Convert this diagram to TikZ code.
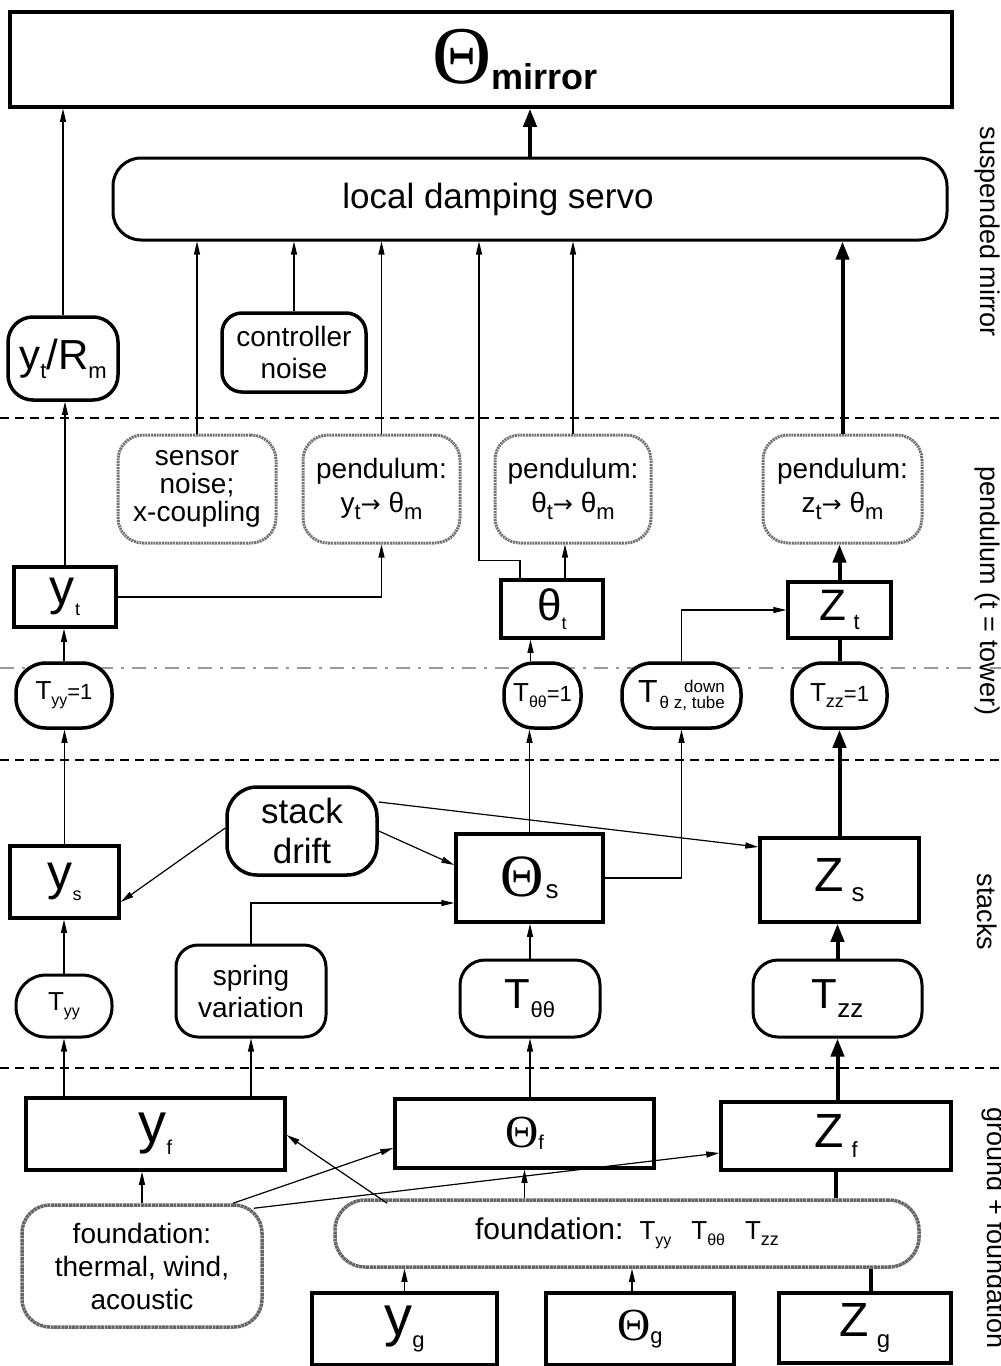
\documentclass[tikz,border=0pt]{standalone}
\usepackage{fontspec}
\setmainfont{Liberation Sans}
\newfontfamily\serifTh{Liberation Serif}
\newfontfamily\djv{DejaVu Sans}
\usetikzlibrary{arrows.meta}
\newcommand\sbs[2]{\raisebox{-0.22em}{\fontsize{#1}{#1}\selectfont #2}}
\newcommand\fs[1]{\fontsize{#1}{#1}\selectfont}
\tikzset{
  sq/.style={draw, line width=3.5pt, fill=white, inner sep=0pt},
  rr/.style={draw, line width=3pt, fill=white, inner sep=0pt, rounded corners=#1},
  rr/.default=22pt,
  fz/.style={rr=#1, draw=black!55, dash pattern=on 2pt off 0.8pt},
  fz/.default=25pt,
  fzd/.style={rr=#1, draw=black!60, line width=3.5pt, dash pattern=on 3pt off 0.6pt},
  fzd/.default=28pt,
  arr/.style={line width=1.2pt, -{Triangle[length=13pt,width=6pt]}},
  tarr/.style={line width=4pt, -{Triangle[length=18pt,width=13pt]}},
  tline/.style={line width=4pt},
  sep/.style={line width=1.2pt, dash pattern=on 9pt off 6pt},
  sepg/.style={line width=1.2pt, black!40, dash pattern=on 14pt off 8pt on 3pt off 8pt},
  side/.style={rotate=-90, font=\fs{27}},
}
\begin{document}
\begin{tikzpicture}[x=1pt,y=-1pt]
\useasboundingbox (0,0) rectangle (1001,1366);
% level separators
\draw[sep] (0,418) -- (1001,418);
\draw[sepg] (0,668) -- (1001,668);
\draw[sep] (0,760) -- (1001,760);
\draw[sep] (0,1068) -- (1001,1068);
% side labels
\node[side] (lbA) at (987,232) {suspended mirror};
\node[side] (lbB) at (987,591) {pendulum (t = tower)};
\node[side] (lbC) at (987,912) {stacks};
\node[side] (lbD) at (994,1228) {ground + foundation};
% mirror level
\node[sq, minimum width=942pt, minimum height=95pt] (mirror) at (481,59.5)
  {\hspace*{68pt}{\serifTh\fs{82}Θ}\raisebox{-6pt}{\bfseries\fs{36}mirror}};
\node[rr=28pt, minimum width=834pt, minimum height=82pt] (servo) at (530,199)
  {\hspace*{-64pt}\fs{35}local damping servo};
\node[rr=25pt, line width=3.5pt, minimum width=110pt, minimum height=83pt] (ytR) at (63,358.5)
  {\fs{42}y\sbs{22}{t}/R\sbs{22}{m}};
\node[rr=20pt, line width=3.5pt, minimum width=144pt, minimum height=79pt, align=center, font=\fontsize{28}{32}\selectfont] (ctrl) at (294,352.5)
  {controller\\noise};
% pendulum level
\node[fz, minimum width=158pt, minimum height=108pt, align=center, font=\fontsize{28}{28}\selectfont] (sensor) at (197,489)
  {sensor\\noise;\\x-coupling};
\node[fz, minimum width=157pt, minimum height=108pt, align=center, font=\fontsize{28}{34}\selectfont] (penY) at (381.5,489)
  {pendulum:\\ y\sbs{22}{t}{\djv\fs{24}→} θ\sbs{22}{m}};
\node[fz, minimum width=156pt, minimum height=108pt, align=center, font=\fontsize{28}{34}\selectfont] (penT) at (573,489)
  {pendulum:\\ θ\sbs{22}{t}{\djv\fs{24}→} θ\sbs{22}{m}};
\node[fz, minimum width=159pt, minimum height=108pt, align=center, font=\fontsize{28}{34}\selectfont] (penZ) at (842.5,489)
  {pendulum:\\ z\sbs{22}{t}{\djv\fs{24}→} θ\sbs{22}{m}};
\node[sq, minimum width=102pt, minimum height=60pt] (yt) at (65,597)
  {\fs{50}y\sbs{18}{t}};
\node[sq, minimum width=102pt, minimum height=58pt] (tht) at (552,609)
  {\fs{44}θ\sbs{18}{t}};
\node[sq, minimum width=103pt, minimum height=56pt] (zt) at (839.5,610)
  {\fs{44}Z\,\sbs{22}{t}};
\node[rr=30pt, line width=3.5pt, minimum width=96pt, minimum height=65pt] (Tyy1) at (64,695.5)
  {\fs{26}T\sbs{16}{yy}{\fs{22}=1}};
\node[rr=30pt, line width=3.5pt, minimum width=77pt, minimum height=65pt] (Ttt1) at (542.5,695.5)
  {\fs{26}T\sbs{16}{θθ}{\fs{22}=1}};
\node[rr=30pt, line width=3.5pt, minimum width=119pt, minimum height=65pt] (Ttz) at (681.5,695.5)
  {\fs{32}T\hspace{2pt}\raisebox{-6pt}{\fontsize{17}{19}\selectfont\shortstack[r]{down\\θ z, tube}}};
\node[rr=30pt, line width=3.5pt, minimum width=95pt, minimum height=65pt] (Tzz1) at (839.5,695.5)
  {\fs{26}T\sbs{18}{zz}{\fs{22}=1}};
% stacks level
\node[sq, minimum width=109pt, minimum height=72pt] (ys) at (64.5,882)
  {\fs{50}y\sbs{18}{s}};
\node[rr=30pt, line width=3.5pt, minimum width=150pt, minimum height=88pt, align=center, font=\fontsize{35}{40}\selectfont] (drift) at (302,831)
  {stack\\drift};
\node[sq, minimum width=147pt, minimum height=88pt] (Ths) at (529.5,878)
  {{\serifTh\fs{60}Θ}\,\sbs{26}{s}};
\node[sq, minimum width=159pt, minimum height=84pt] (Zs) at (839.5,880)
  {\fs{48}Z\,\sbs{26}{s}};
\node[rr=30pt, minimum width=96pt, minimum height=62pt] (Tyy) at (64,1006)
  {\fs{26}T\sbs{16}{yy}};
\node[rr=22pt, minimum width=150pt, minimum height=92pt, align=center, font=\fontsize{28}{32}\selectfont] (spring) at (251,991)
  {spring\\variation};
\node[rr=25pt, minimum width=140pt, minimum height=77pt] (Ttt) at (530,998.5)
  {\fs{42}T\sbs{22}{θθ}};
\node[rr=25pt, minimum width=169pt, minimum height=77pt] (Tzz) at (837.5,998.5)
  {\fs{42}T\sbs{26}{zz}};
% ground + foundation level
\node[sq, minimum width=259pt, minimum height=72pt] (yf) at (155.5,1134)
  {\fs{56}y\sbs{20}{f}};
\node[sq, minimum width=259pt, minimum height=69pt] (Thf) at (524.5,1133.5)
  {{\serifTh\fs{46}Θ}\sbs{20}{f}};
\node[sq, minimum width=230pt, minimum height=68pt] (Zf) at (836,1136)
  {\fs{48}Z\,\sbs{22}{f}};
\node[fzd, minimum width=240pt, minimum height=122pt, align=center, font=\fontsize{28}{33}\selectfont] (fth) at (142,1266)
  {foundation:\\thermal, wind,\\acoustic};
\node[fzd=30pt, minimum width=584pt, minimum height=67pt] (fT) at (627,1233.5)
  {\fs{30}foundation:\hspace{16pt}{\fs{26}T\sbs{16}{yy}\hspace{20pt}T\sbs{16}{θθ}\hspace{20pt}T\sbs{18}{zz}}};
\node[sq, minimum width=185pt, minimum height=72pt] (yg) at (404.5,1329)
  {\fs{56}y\sbs{22}{g}};
\node[sq, minimum width=188pt, minimum height=72pt] (Thg) at (640,1329)
  {{\serifTh\fs{46}Θ}\sbs{22}{g}};
\node[sq, minimum width=172pt, minimum height=70pt] (Zg) at (865,1328)
  {\fs{48}Z\,\sbs{24}{g}};
% connectors: mirror level
\draw[arr] (ytR.north) -- (ytR.north |- mirror.south);
\draw[tarr] (servo.north) -- (servo.north |- mirror.south);
\draw[arr] (yt.north) -- (yt.north |- ytR.south);
\draw[arr] (ctrl.north) -- (ctrl.north |- servo.south);
\draw[arr] (sensor.north) -- (sensor.north |- servo.south);
\draw[arr] (penY.north) -- (penY.north |- servo.south);
\draw[arr] ([xshift=-32pt]tht.north) -- ++(0,-18) -| ([xshift=-51pt]servo.south);
\draw[arr] (penT.north) -- (penT.north |- servo.south);
\draw[tarr] (penZ.north) -- (penZ.north |- servo.south);
% pendulum level
\draw[arr] (yt.east) -| (penY.south);
\draw[arr] ([xshift=13pt]tht.north) -- ([xshift=13pt]tht.north |- penT.south);
\draw[tarr] (zt.north) -- (zt.north |- penZ.south);
\draw[tline] (Tzz1.north) -- (zt.south);
\draw[arr] (Ttz.north) |- (zt.west);
\draw[arr] ([xshift=-12pt]Ttt1.north) -- ([xshift=-12pt]Ttt1.north |- tht.south);
\draw[arr] (Tyy1.north) -- (Tyy1.north |- yt.south);
% stacks level
\draw[arr] (ys.north) -- (ys.north |- Tyy1.south);
\draw[arr] (Ths.north) -- (Ths.north |- Ttt1.south);
\draw[arr] (Ths.east) -| (Ttz.south);
\draw[tarr] (Zs.north) -- (Zs.north |- Tzz1.south);
\draw[arr] ([yshift=3pt]drift.west) -- ([yshift=-20pt]ys.east);
\draw[arr] (drift.east) -- ([yshift=13pt]Ths.west);
\draw[arr] ([yshift=29pt]drift.east) -- ([yshift=33pt]Zs.west);
\draw[arr] (spring.north) |- ([yshift=-25pt]Ths.west);
\draw[arr] (Tyy.north) -- (Tyy.north |- ys.south);
\draw[arr] (Ttt.north) -- (Ttt.north |- Ths.south);
\draw[tarr] (Tzz.north) -- (Tzz.north |- Zs.south);
% ground level
\draw[arr] (yf.north -| Tyy.south) -- (Tyy.south);
\draw[arr] (yf.north -| spring.south) -- (spring.south);
\draw[arr] (Thf.north -| Ttt.south) -- (Ttt.south);
\draw[tarr] (Zf.north -| Tzz.south) -- (Tzz.south);
\draw[arr] (fth.north) -- (fth.north |- yf.south);
\draw[arr] (fT.north -| Thf.south) -- (Thf.south);
\draw[tline] (fT.north -| Zf.south) -- (Zf.south);
\draw[arr] ([xshift=91pt]fth.north) -- ([yshift=-14.5pt]Thf.west);
\draw[arr] ([shift={(-10pt,-5pt)}]fth.north east) -- ([yshift=-17pt]Zf.west);
\draw[arr] ([shift={(54pt,-5pt)}]fT.north west) -- ([yshift=-1pt]yf.east);
\draw[arr] (yg.north) -- (yg.north |- fT.south);
\draw[arr] ([xshift=-8pt]Thg.north) -- ([xshift=-8pt]Thg.north |- fT.south);
\draw[tline] ([xshift=6pt]Zg.north) -- ([xshift=6pt]Zg.north |- fT.south);
\end{tikzpicture}
\end{document}
